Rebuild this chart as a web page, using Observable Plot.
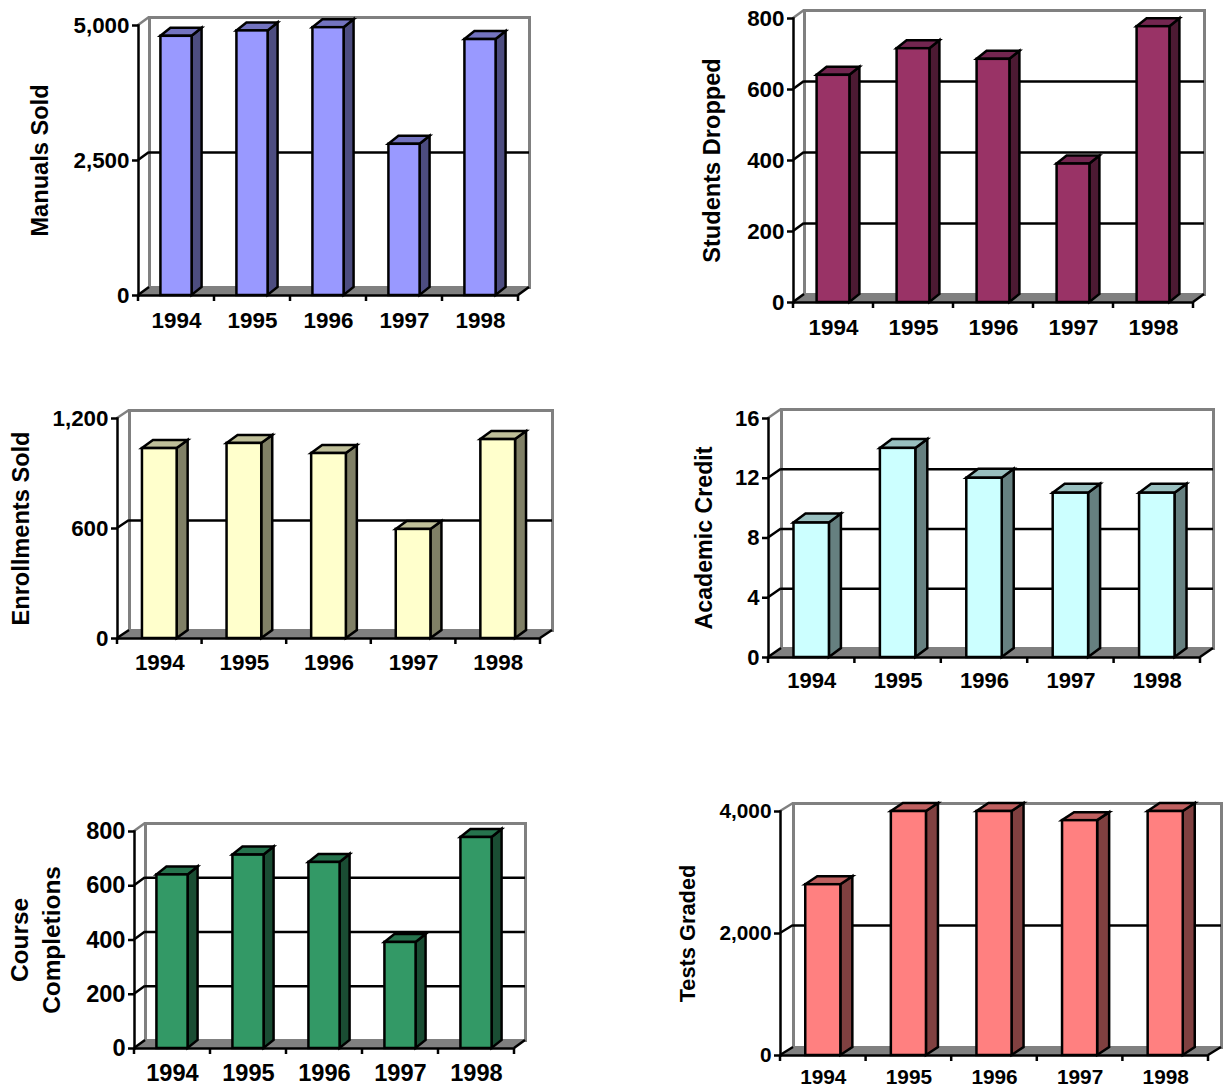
<!DOCTYPE html>
<html>
<head>
<meta charset="utf-8">
<script src="https://cdn.jsdelivr.net/npm/d3@7"></script>
<script src="https://cdn.jsdelivr.net/npm/@observablehq/plot@0.6"></script>
<style>
html, body { margin: 0; padding: 0; background: #fff; }
#page { position: relative; width: 1225px; height: 1088px; overflow: hidden; background: #fff; }
#page svg { position: absolute; }
</style>
</head>
<body>
<div id="page"></div>
<script>
const years = ["1994", "1995", "1996", "1997", "1998"];

const manualsSold = [4800, 4900, 4960, 2800, 4740];
const studentsDropped = [640, 715, 685, 390, 777];
const enrollmentsSold = [1036, 1064, 1009, 595, 1085];
const academicCredit = [9, 14, 12, 11, 11];
const courseCompletions = [640, 713, 686, 391, 778];
const testsGraded = [2800, 4000, 4000, 3850, 4000];

const manualsTicks = [0, 2500, 5000];
const studentsTicks = [0, 200, 400, 600, 800];
const enrollmentsTicks = [0, 600, 1200];
const creditTicks = [0, 4, 8, 12, 16];
const completionsTicks = [0, 200, 400, 600, 800];
const testsTicks = [0, 2000, 4000];

// Panel layout: region on the page, frame edges, oblique depth, type sizes, colours.
const panels = [
  {label: "Manuals Sold", values: manualsSold, ticks: manualsTicks,
   L: 0, T: 0, x0: 138, x1: 518, yb: 295, yt: 25, dx: 11, dy: 8, fs: 22.4, lfs: 23.6, lx: 40, pad: 17,
   front: "#9999FF", side: "#4D4D80", top: "#7373BF"},
  {label: "Students Dropped", values: studentsDropped, ticks: studentsTicks,
   L: 612, T: 0, x0: 793, x1: 1193, yb: 302, yt: 18, dx: 11, dy: 8, fs: 22.4, lfs: 23.6, lx: 712, pad: 17,
   front: "#993366", side: "#4D1A33", top: "#732650"},
  {label: "Enrollments Sold", values: enrollmentsSold, ticks: enrollmentsTicks,
   L: 0, T: 360, x0: 117, x1: 540, yb: 638, yt: 418, dx: 12, dy: 8, fs: 22.4, lfs: 23.6, lx: 21, pad: 16,
   front: "#FFFFCC", side: "#808066", top: "#BFBF99"},
  {label: "Academic Credit", values: academicCredit, ticks: creditTicks,
   L: 612, T: 360, x0: 768, x1: 1200, yb: 657, yt: 418, dx: 13, dy: 9, fs: 22, lfs: 23.2, lx: 704, pad: 15,
   front: "#CCFFFF", side: "#668080", top: "#99BFBF"},
  {label: "Course\nCompletions", values: courseCompletions, ticks: completionsTicks,
   L: 0, T: 720, x0: 134, x1: 514, yb: 1048, yt: 831, dx: 11, dy: 8, fs: 23.6, lfs: 24.4, lx: 33, pad: 16,
   lineHeight: 1.32,
   front: "#339966", side: "#1A4D33", top: "#26734D"},
  {label: "Tests Graded", values: testsGraded, ticks: testsTicks,
   L: 612, T: 720, x0: 780, x1: 1208, yb: 1055, yt: 811, dx: 13, dy: 8, fs: 20.8, lfs: 21.8, lx: 688, pad: 14,
   front: "#FF8080", side: "#804040", top: "#BF6060"}
];

const BLACK = "#000000";
const GREY = "#808080";
const FONT = '"Liberation Sans", Arial, sans-serif';
const page = document.getElementById("page");

function panel(p) {
  const width = p.L === 0 ? 612 : 613;
  const height = p.T === 720 ? 368 : 360;
  const rows = years.map((year, i) => ({year, value: p.values[i]}));
  const maxTick = d3.max(p.ticks);
  const innerTicks = p.ticks.filter(t => t !== 0 && t !== maxTick);

  // Floor of the chart, in the plane of the x axis and y = 0.
  const floor = Plot.ruleY([0], {
    render(index, scales) {
      const g = d3.create("svg:g");
      const [xa, xb] = scales.x.range();
      const y0 = scales.y(0);
      g.append("path")
        .attr("d", `M${xa},${y0}L${xb},${y0}L${xb + p.dx},${y0 - p.dy}L${xa + p.dx},${y0 - p.dy}Z`)
        .attr("fill", GREY);
      return g.node();
    }
  });

  // Oblique strokes from the front axis to the back wall, and category ticks.
  const edges = Plot.ruleY([0], {
    render(index, scales) {
      const g = d3.create("svg:g").attr("stroke-width", 2.5).attr("fill", "none");
      const [xa, xb] = scales.x.range();
      for (const t of p.ticks) {
        const y = scales.y(t);
        g.append("line").attr("x1", xa).attr("y1", y).attr("x2", xa + p.dx).attr("y2", y - p.dy)
          .attr("stroke", t === maxTick ? GREY : BLACK);
      }
      const y0 = scales.y(0);
      g.append("line").attr("x1", xb).attr("y1", y0).attr("x2", xb + p.dx).attr("y2", y0 - p.dy)
        .attr("stroke", BLACK);
      const gap = (scales.x.step() - scales.x.bandwidth()) / 2;
      const edgesX = years.map(d => scales.x(d) - gap).concat(xb);
      for (const x of edgesX) {
        g.append("line").attr("x1", x).attr("y1", y0).attr("x2", x).attr("y2", y0 + 6)
          .attr("stroke", BLACK);
      }
      return g.node();
    }
  });

  // Side and top faces of every bar.
  const depth = Plot.ruleY(rows, {
    y: "value",
    render(index, scales) {
      const g = d3.create("svg:g").attr("stroke", BLACK).attr("stroke-width", 2.5).attr("stroke-linejoin", "miter");
      const w = scales.x.bandwidth();
      const bx = p.dx - 1, by = p.dy;
      const y0 = scales.y(0);
      for (const i of index) {
        const xl = scales.x(rows[i].year), xr = xl + w, y = scales.y(rows[i].value);
        g.append("path").attr("fill", p.side)
          .attr("d", `M${xr},${y}L${xr + bx},${y - by}L${xr + bx},${y0 - by}L${xr},${y0}Z`);
        g.append("path").attr("fill", p.top)
          .attr("d", `M${xl},${y}L${xl + bx},${y - by}L${xr + bx},${y - by}L${xr},${y}Z`);
      }
      return g.node();
    }
  });

  const svg = Plot.plot({
    width, height,
    marginLeft: p.x0 - p.L,
    marginRight: p.L + width - p.x1,
    marginTop: p.yt - p.T,
    marginBottom: p.T + height - p.yb,
    style: {fontFamily: FONT, fontWeight: "bold", fontSize: p.fs + "px", color: BLACK, background: "transparent", overflow: "visible"},
    x: {type: "band", domain: years, paddingInner: 0.59, paddingOuter: 0.295, round: false},
    y: {domain: [0, maxTick]},
    marks: [
      Plot.frame({dx: p.dx, dy: -p.dy, stroke: GREY, strokeWidth: 3}),
      floor,
      Plot.ruleY(innerTicks, {dx: p.dx, dy: -p.dy, stroke: BLACK, strokeWidth: 2.5}),
      edges,
      depth,
      Plot.barY(rows, {x: "year", y: "value", fill: p.front, stroke: BLACK, strokeWidth: 2.5}),
      Plot.frame({anchor: "left", stroke: BLACK, strokeWidth: 2.5}),
      Plot.ruleY([0], {stroke: BLACK, strokeWidth: 2.5}),
      Plot.axisY({
        ticks: p.ticks, tickSize: 6, tickPadding: 3, strokeWidth: 2.5, stroke: BLACK,
        tickFormat: d3.format(","), label: null
      }),
      Plot.axisX({tickSize: 0, tickPadding: p.pad, label: null}),
      Plot.text([p.label], {
        frameAnchor: "left", rotate: -90, dx: p.lx - p.x0, fontSize: p.lfs,
        lineHeight: p.lineHeight ?? 1, lineAnchor: "middle", textAnchor: "middle"
      })
    ]
  });
  svg.style.left = p.L + "px";
  svg.style.top = p.T + "px";
  page.appendChild(svg);
}

panels.forEach(panel);
</script>
</body>
</html>
